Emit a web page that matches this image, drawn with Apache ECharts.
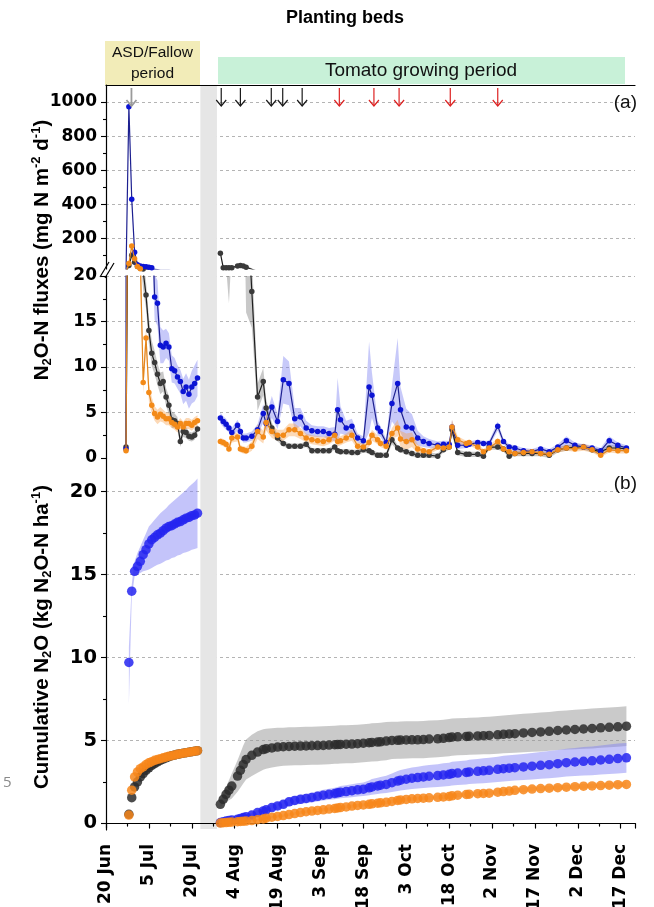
<!DOCTYPE html>
<html><head><meta charset="utf-8">
<script src="https://cdn.jsdelivr.net/npm/echarts@6/dist/echarts.min.js"></script>
<style>html,body{margin:0;padding:0;background:#fff}#c{width:654px;height:907px}</style>
</head><body><div id="c"></div>
<script>
// ---------- DATA ----------
// x values are days after 20 Jun
const xTickLabels = ['20 Jun','5 Jul','20 Jul','4 Aug','19 Aug','3 Sep','18 Sep','3 Oct','18 Oct','2 Nov','17 Nov','2 Dec','17 Dec'];
const gapDays = [33, 38.8];            // grey band between periods
const fluxHighTicks = [200, 400, 600, 800, 1000];
const fluxHighMinorTicks = [100, 300, 500, 700, 900];
const cumTicks = [0, 5, 10, 15, 20];
const cumMinorTicks = [2.5, 7.5, 12.5, 17.5];

// Panel (a) fluxes - ASD/Fallow period
const fallowDays = [7,8,9,10,11,12,13,14,15,16,17,18,19,20,21,22,23,24,25,26,27,28,29,30,31,32];
const fallowBlue = [1.0,972,430,119,45,38,35,33,30,28,17.7,17.0,12.4,12.2,12.6,12.2,9.8,9.6,8.9,8.4,7.3,7.8,7.0,7.8,8.2,8.8];
const fallowBlueErr = [0.3,20,20,10,6,5,5,5,5,4,2.5,2.5,2.0,1.8,1.6,1.5,1.5,1.4,1.3,1.3,1.4,1.5,1.6,1.8,2.0,2.0];
const fallowBlack = [1.2,40,100,60,35,25,20.5,17.9,14.0,11.5,10.5,9.2,8.2,8.4,6.7,5.8,4.2,4.1,3.8,1.8,2.9,2.8,2.4,2.3,2.5,3.2];
const fallowBlackErr = [0.2,8,10,8,5,3,2,1.5,1.5,1.4,1.3,1.2,1.2,1.1,1.0,1.0,0.9,0.8,0.7,0.6,0.6,0.6,0.5,0.5,0.5,0.5];
const fallowOrange = [0.8,52,155,80,35,22,8.3,13.2,7.2,5.8,4.9,4.5,4.8,4.6,4.3,4.3,3.9,3.7,3.4,3.8,3.4,3.8,3.8,3.6,3.9,4.1];
const fallowOrangeErr = [0.2,8,10,8,4,3,1.2,1.2,1.0,0.9,0.8,0.8,0.8,0.7,0.7,0.7,0.6,0.6,0.6,0.6,0.6,0.6,0.6,0.6,0.6,0.6];

// Panel (a) fluxes - tomato period
const tomDays = [40,41,42,43,44,46,47,48,49,51,53,55,56,58,60,62,64,66,68,70,72,74,76,78,80,81,82,84,86,88,90,92,93,95,96,98,100,102,103,105,107,109,111,113,116,118,120,121,123,126,127,130,132,134,137,139,141,143,146,149,152,155,158,161,164,167,170,173,176,179,182];
const tomBlue = [4.4,4.0,3.7,3.3,2.8,3.6,2.9,2.2,2.2,2.4,3.1,4.9,3.8,5.6,4.0,8.6,8.2,4.3,4.5,3.3,3.0,2.9,2.9,2.7,2.6,5.3,4.2,3.3,3.5,2.2,1.9,7.8,6.9,3.3,2.9,1.7,6.0,8.2,5.3,3.4,3.3,2.2,1.8,1.6,1.4,1.5,1.5,3.4,1.4,1.4,1.5,1.7,1.6,1.6,3.5,1.8,1.2,1.1,0.8,0.7,1.0,0.7,1.2,1.9,1.4,1.2,1.1,0.8,1.9,1.4,1.1];
const tomBlueErr = [0.6,0.6,0.6,0.5,0.5,0.6,0.6,0.5,0.5,0.5,0.6,1.0,0.8,1.2,0.8,2.6,2.4,1.2,1.0,0.8,0.6,0.6,0.6,0.6,0.8,3.5,1.5,0.8,0.8,0.5,0.5,5.0,2.5,0.8,0.6,0.4,2.0,5.0,2.5,2.0,1.5,0.8,0.6,0.5,0.4,0.4,0.4,0.8,0.4,0.3,0.3,0.3,0.3,0.3,0.5,0.3,0.3,0.3,0.3,0.3,0.3,0.3,0.3,0.5,0.3,0.3,0.3,0.3,0.5,0.3,0.3];
const tomOrange = [1.8,1.7,1.5,1.0,2.2,2.3,1.0,0.9,0.8,1.3,2.9,2.3,3.9,2.9,2.5,2.5,3.1,3.1,2.7,2.2,2.0,1.9,1.8,2.0,2.5,1.8,1.9,2.2,2.5,1.3,1.2,1.7,2.5,2.0,1.6,1.3,2.7,3.3,2.1,1.8,2.0,1.0,0.8,0.7,1.2,1.1,1.2,3.4,2.0,1.6,1.7,1.2,0.7,1.1,1.8,1.0,0.7,0.5,0.6,0.7,0.5,0.4,0.9,1.1,1.0,1.2,0.9,0.3,0.9,0.8,0.8];
const tomOrangeErr = [0.4,0.4,0.4,0.4,0.5,0.5,0.4,0.4,0.4,0.5,0.8,0.7,0.9,0.7,0.6,0.6,0.7,0.7,0.6,0.5,0.5,0.5,0.5,0.5,0.6,0.5,0.5,0.5,0.6,0.4,0.4,0.5,0.6,0.5,0.4,0.4,0.6,0.9,0.9,0.9,0.8,0.5,0.3,0.3,0.3,0.3,0.3,0.8,0.4,0.3,0.3,0.3,0.3,0.3,0.4,0.3,0.3,0.3,0.3,0.3,0.3,0.2,0.3,0.3,0.3,0.4,0.3,0.2,0.3,0.3,0.3];
const tomBlack = [113,28,27,27,28,38,40,38,30,18.3,6.7,8.4,5.5,3.3,2.2,1.6,1.3,1.3,1.3,1.5,0.8,0.8,0.8,0.8,1.2,0.8,0.7,0.7,0.6,0.6,0.9,0.8,0.6,0.3,0.3,0.3,2.0,1.1,0.9,0.7,0.5,0.3,0.3,0.3,0.2,0.9,1.2,3.1,0.6,0.4,0.4,0.4,0.2,1.2,1.2,1.0,0.2,0.5,0.5,0.5,0.5,0.3,0.9,1.1,1.2,1.2,0.9,0.7,1.1,1.1,1.0];
const tomBlackErr = [5,3,6,10,5,4,4,4,14,4,1.5,1.5,1.0,0.6,0.4,0.3,0.3,0.3,0.3,0.3,0.3,0.3,0.3,0.3,0.3,0.3,0.3,0.3,0.3,0.3,0.3,0.3,0.3,0.3,0.3,0.3,0.5,0.3,0.3,0.3,0.3,0.3,0.3,0.3,0.3,0.3,0.3,0.6,0.3,0.3,0.3,0.3,0.3,0.3,0.3,0.3,0.3,0.3,0.3,0.3,0.3,0.3,0.3,0.3,0.3,0.3,0.3,0.3,0.3,0.3,0.3];

// Panel (b) cumulative
const cumFallowDays = [8,9,10,11,12,13,14,15,16,17,18,19,20,21,22,23,24,25,26,27,28,29,30,31,32];
const cumFallowBlue = [9.7,14.0,15.2,15.5,15.8,16.2,16.5,16.85,17.1,17.25,17.4,17.5,17.65,17.8,17.9,17.95,18.05,18.15,18.2,18.3,18.4,18.45,18.55,18.6,18.7];
const cumFallowBlueLo = [7.2,13.6,14.9,15.0,15.1,15.2,15.25,15.3,15.4,15.5,15.6,15.65,15.75,15.85,15.9,16.0,16.05,16.15,16.2,16.3,16.35,16.4,16.5,16.55,16.6];
const cumFallowBlueHi = [10.6,14.4,15.8,16.3,16.7,17.1,17.5,17.9,18.1,18.3,18.5,18.7,18.85,19.0,19.2,19.35,19.5,19.65,19.8,19.95,20.1,20.3,20.45,20.6,20.8];
const cumFallowBlack = [0.55,1.55,2.2,2.5,2.8,3.0,3.2,3.35,3.5,3.6,3.7,3.8,3.88,3.95,4.02,4.08,4.12,4.16,4.2,4.23,4.26,4.29,4.32,4.35,4.38];
const cumFallowOrange = [0.5,2.0,2.8,3.1,3.3,3.4,3.55,3.65,3.72,3.8,3.85,3.9,3.95,4.0,4.05,4.08,4.12,4.16,4.2,4.23,4.26,4.29,4.32,4.35,4.38];

const cumTomBlack = [1.15,1.45,1.75,2.0,2.25,2.85,3.2,3.55,3.85,4.1,4.3,4.45,4.5,4.55,4.6,4.62,4.64,4.65,4.66,4.67,4.68,4.69,4.7,4.72,4.74,4.75,4.76,4.77,4.78,4.8,4.83,4.86,4.88,4.9,4.92,4.96,5.0,5.01,5.02,5.03,5.04,5.04,5.05,5.08,5.1,5.13,5.17,5.2,5.22,5.24,5.25,5.27,5.29,5.3,5.34,5.37,5.39,5.41,5.45,5.48,5.51,5.55,5.6,5.63,5.66,5.69,5.72,5.76,5.79,5.82,5.86];
const cumTomBlackErr = [0.15,0.3,0.45,0.6,0.75,0.95,1.05,1.15,1.2,1.25,1.25,1.22,1.2,1.18,1.17,1.15,1.15,1.15,1.15,1.15,1.15,1.15,1.15,1.15,1.15,1.15,1.15,1.15,1.15,1.15,1.15,1.15,1.15,1.15,1.15,1.15,1.12,1.12,1.12,1.12,1.12,1.12,1.12,1.12,1.12,1.12,1.12,1.12,1.12,1.12,1.12,1.12,1.13,1.13,1.14,1.14,1.15,1.15,1.16,1.16,1.17,1.17,1.18,1.18,1.19,1.19,1.2,1.2,1.2,1.2,1.2];
const cumTomBlue = [0.05,0.1,0.14,0.18,0.21,0.25,0.3,0.35,0.4,0.5,0.65,0.75,0.82,0.95,1.05,1.15,1.3,1.38,1.45,1.5,1.56,1.63,1.7,1.75,1.8,1.84,1.88,1.92,1.97,2.02,2.06,2.14,2.2,2.26,2.3,2.35,2.45,2.55,2.6,2.66,2.72,2.76,2.8,2.84,2.88,2.92,2.96,3.0,3.03,3.07,3.1,3.14,3.17,3.2,3.26,3.3,3.33,3.36,3.4,3.45,3.5,3.54,3.6,3.66,3.7,3.74,3.77,3.82,3.86,3.91,3.95];
const cumTomBlueErr = [0.03,0.04,0.05,0.06,0.07,0.08,0.09,0.1,0.11,0.13,0.15,0.17,0.18,0.2,0.21,0.23,0.26,0.27,0.28,0.29,0.3,0.31,0.32,0.33,0.34,0.36,0.37,0.38,0.39,0.4,0.41,0.45,0.47,0.49,0.5,0.52,0.56,0.6,0.62,0.64,0.65,0.66,0.67,0.68,0.69,0.7,0.7,0.71,0.72,0.72,0.73,0.74,0.75,0.75,0.76,0.77,0.77,0.78,0.79,0.8,0.81,0.82,0.83,0.84,0.85,0.86,0.87,0.88,0.89,0.9,0.9];
const cumTomOrange = [0.02,0.04,0.05,0.06,0.08,0.1,0.12,0.13,0.14,0.17,0.22,0.27,0.31,0.37,0.42,0.47,0.53,0.59,0.65,0.7,0.74,0.78,0.82,0.86,0.9,0.93,0.95,0.99,1.04,1.08,1.11,1.15,1.18,1.22,1.24,1.27,1.32,1.38,1.41,1.44,1.48,1.5,1.52,1.54,1.57,1.59,1.62,1.66,1.7,1.74,1.76,1.79,1.8,1.82,1.88,1.92,1.95,1.99,2.03,2.07,2.1,2.12,2.15,2.18,2.21,2.24,2.26,2.28,2.3,2.33,2.35];
const cumTomOrangeErr = [0.03,0.03,0.03,0.03,0.03,0.04,0.04,0.04,0.04,0.05,0.05,0.05,0.06,0.06,0.07,0.07,0.08,0.08,0.09,0.09,0.1,0.1,0.1,0.1,0.1,0.1,0.1,0.1,0.1,0.1,0.1,0.11,0.11,0.11,0.11,0.11,0.12,0.12,0.12,0.12,0.12,0.12,0.12,0.13,0.13,0.13,0.13,0.13,0.13,0.13,0.13,0.14,0.14,0.14,0.14,0.14,0.14,0.14,0.15,0.15,0.15,0.15,0.15,0.15,0.15,0.15,0.15,0.15,0.15,0.15,0.15];

// event arrows (days) and kind: 0 = ASD grey, 1 = black, 2 = red
const arrowDays = [8.9,40.3,47.0,57.8,61.8,68.6,81.6,93.7,102.5,120.4,137.0];
const arrowKinds = [0,1,1,1,1,1,2,2,2,2,2];

// ---------- STYLE ----------
const COL = {
  blue:   {mk:'#0c14d4', ln:'#1d2090', band:'rgba(115,120,240,0.40)', cum:'#2424f0', cumBand:'rgba(125,125,245,0.45)'},
  orange: {mk:'#f38a18', ln:'#e4861e', band:'rgba(247,160,75,0.40)',  cum:'#f7861a', cumBand:'rgba(250,175,95,0.5)'},
  black:  {mk:'#3a3a3a', ln:'#1e1e1e', band:'rgba(110,110,110,0.38)', cum:'#2b2b2b', cumBand:'rgba(150,150,150,0.5)'}
};
const ARROW_COL = ['#9a9a9a', '#1a1a1a', '#dd2222'];
const FONT_TICK = 'DejaVu Sans';
const FONT_TXT = 'Liberation Sans';

const pairs = (d, v) => d.map((x, i) => [x, v[i]]);
const lo = (v, e) => v.map((x, i) => Math.max(0, x - e[i]));
const hi = (v, e) => v.map((x, i) => x + e[i]);

function band(xi, yi, days, low, high, color, z) {
  return {
    type: 'custom', xAxisIndex: xi, yAxisIndex: yi, z: z, silent: true, clip: true,
    data: [[days[0], low[0]]],
    renderItem: function (params, api) {
      const top = days.map((d, i) => api.coord([d, high[i]]));
      const bot = days.map((d, i) => api.coord([d, low[i]])).reverse();
      const cs = params.coordSys;
      return {
        type: 'group',
        clipPath: {type: 'rect', shape: {x: cs.x, y: cs.y, width: cs.width, height: cs.height}},
        children: [{type: 'polygon', shape: {points: top.concat(bot)}, style: {fill: color}}]
      };
    }
  };
}
function fluxLine(xi, yi, days, vals, c, z) {
  return {
    type: 'line', xAxisIndex: xi, yAxisIndex: yi, z: z, silent: true, clip: true,
    data: pairs(days, vals), symbol: 'circle', symbolSize: 5.5, showSymbol: true,
    lineStyle: {color: c.ln, width: 1.2}, itemStyle: {color: c.mk}
  };
}
function cumPts(days, vals, c, z) {
  return {
    type: 'scatter', xAxisIndex: 2, yAxisIndex: 2, z: z, silent: true,
    data: pairs(days, vals), symbol: 'circle', symbolSize: 9.5,
    itemStyle: {color: c.cum, opacity: 0.85}
  };
}

const series = [];
// grey gap band
series.push({
  type: 'custom', xAxisIndex: 4, yAxisIndex: 4, z: 1, silent: true,
  data: [gapDays],
  renderItem: function (params, api) {
    const cs = params.coordSys;
    const x0 = api.coord([api.value(0), 0])[0];
    const x1 = api.coord([api.value(1), 0])[0];
    return {type: 'rect', shape: {x: x0, y: cs.y + 1, width: x1 - x0, height: cs.height - 2}, style: {fill: '#e6e6e6'}};
  }
});
// panel (a): both y segments
[0, 1].forEach(g => {
  series.push(band(g, g, fallowDays, lo(fallowBlack, fallowBlackErr), hi(fallowBlack, fallowBlackErr), COL.black.band, 2));
  series.push(band(g, g, fallowDays, lo(fallowBlue, fallowBlueErr), hi(fallowBlue, fallowBlueErr), COL.blue.band, 2));
  series.push(band(g, g, fallowDays, lo(fallowOrange, fallowOrangeErr), hi(fallowOrange, fallowOrangeErr), COL.orange.band, 2));
  series.push(band(g, g, tomDays, lo(tomBlack, tomBlackErr), hi(tomBlack, tomBlackErr), COL.black.band, 2));
  series.push(band(g, g, tomDays, lo(tomBlue, tomBlueErr), hi(tomBlue, tomBlueErr), COL.blue.band, 2));
  series.push(band(g, g, tomDays, lo(tomOrange, tomOrangeErr), hi(tomOrange, tomOrangeErr), COL.orange.band, 2));
  series.push(fluxLine(g, g, fallowDays, fallowBlack, COL.black, 3));
  series.push(fluxLine(g, g, tomDays, tomBlack, COL.black, 3));
  series.push(fluxLine(g, g, fallowDays, fallowBlue, COL.blue, 4));
  series.push(fluxLine(g, g, tomDays, tomBlue, COL.blue, 4));
  series.push(fluxLine(g, g, fallowDays, fallowOrange, COL.orange, 5));
  series.push(fluxLine(g, g, tomDays, tomOrange, COL.orange, 5));
});
// arrows
series.push({
  type: 'custom', xAxisIndex: 0, yAxisIndex: 0, z: 6, silent: true,
  data: arrowDays.map((d, i) => [d, arrowKinds[i]]),
  renderItem: function (params, api) {
    const x = api.coord([api.value(0), 500])[0];
    const cs = params.coordSys;
    const k = api.value(1);
    const col = ARROW_COL[k];
    const w = k === 0 ? 1.8 : 1.2;
    const y0 = cs.y + 3, y1 = cs.y + 21;
    return {type: 'group', children: [
      {type: 'line', shape: {x1: x, y1: y0, x2: x, y2: y1}, style: {stroke: col, lineWidth: w}},
      {type: 'polyline', shape: {points: [[x - 5, y1 - 6], [x, y1], [x + 5, y1 - 6]]}, style: {stroke: col, lineWidth: w, fill: null}}
    ]};
  }
});
// panel (b)
series.push(band(2, 2, cumFallowDays, cumFallowBlueLo, cumFallowBlueHi, COL.blue.cumBand, 2));
series.push(band(2, 2, tomDays, lo(cumTomBlack, cumTomBlackErr), hi(cumTomBlack, cumTomBlackErr), COL.black.cumBand, 2));
series.push(band(2, 2, tomDays, lo(cumTomBlue, cumTomBlueErr), hi(cumTomBlue, cumTomBlueErr), COL.blue.cumBand, 2));
series.push(band(2, 2, tomDays, lo(cumTomOrange, cumTomOrangeErr), hi(cumTomOrange, cumTomOrangeErr), COL.orange.cumBand, 2));
series.push(cumPts(cumFallowDays, cumFallowBlack, COL.black, 3));
series.push(cumPts(tomDays, cumTomBlack, COL.black, 3));
series.push(cumPts(cumFallowDays, cumFallowBlue, COL.blue, 4));
series.push(cumPts(tomDays, cumTomBlue, COL.blue, 4));
series.push(cumPts(cumFallowDays, cumFallowOrange, COL.orange, 5));
series.push(cumPts(tomDays, cumTomOrange, COL.orange, 5));

const axLine = {show: true, lineStyle: {color: '#000', width: 1.2}};
const tickSt = {color: '#000', width: 1.1};
const gridSplit = {show: true, lineStyle: {color: '#b4b4b4', type: [3, 3], width: 1}};
const G = {left: 106, width: 529, outerBoundsMode: 'none', containLabel: false};
const plain = v => String(v);
const tickLabA = {margin: 9, fontFamily: FONT_TICK, fontWeight: 'bold', fontSize: 17, color: '#000', formatter: plain};

const option = {
  animation: false,
  backgroundColor: '#fff',
  grid: [
    Object.assign({top: 85, height: 184}, G),
    Object.assign({top: 276, height: 182}, G),
    Object.assign({top: 458, height: 372}, G),
    Object.assign({top: 85, height: 745}, G)
  ],
  xAxis: [
    {gridIndex: 0, type: 'value', min: 0, max: 185, interval: 15, position: 'top', z: 5,
     axisLine: axLine, axisTick: {show: false}, axisLabel: {show: false}, splitLine: {show: false}},
    {gridIndex: 1, type: 'value', min: 0, max: 185, interval: 15, show: false},
    {gridIndex: 2, type: 'value', min: 0, max: 185, interval: 15, position: 'bottom', z: 5,
     axisLine: axLine,
     axisTick: {show: true, length: 5, lineStyle: tickSt},
     minorTick: {show: true, splitNumber: 2, length: 3, lineStyle: tickSt},
     splitLine: {show: false},
     axisLabel: {rotate: 90, margin: 14, fontFamily: FONT_TICK, fontWeight: 'bold', fontSize: 17, color: '#000',
       formatter: v => (v % 15 === 0 && xTickLabels[v / 15]) ? xTickLabels[v / 15] : ''}},
    {gridIndex: 2, type: 'value', min: 0, max: 185, interval: 15, position: 'top', z: 5,
     axisLine: axLine,
     axisTick: {show: true, inside: true, length: 5, lineStyle: tickSt},
     minorTick: {show: true, splitNumber: 2, length: 3, lineStyle: tickSt},
     axisLabel: {show: false}, splitLine: {show: false}},
    {gridIndex: 3, type: 'value', min: 0, max: 185, show: false}
  ],
  yAxis: [
    {gridIndex: 0, type: 'value', min: 20, max: 1100, position: 'left',
     axisLine: axLine,
     axisTick: {show: true, length: 5, lineStyle: tickSt, customValues: fluxHighTicks},
     minorTick: {show: false},
     splitLine: gridSplit,
     axisLabel: Object.assign({customValues: fluxHighTicks}, tickLabA)},
    {gridIndex: 1, type: 'value', min: 0, max: 20, interval: 5, position: 'left',
     axisLine: axLine,
     axisTick: {show: true, length: 5, lineStyle: tickSt},
     minorTick: {show: true, splitNumber: 2, length: 3, lineStyle: tickSt},
     splitLine: Object.assign({showMinLine: false, showMaxLine: true}, gridSplit),
     axisLabel: tickLabA},
    {gridIndex: 2, type: 'value', min: -0.4, max: 22.03, position: 'left',
     axisLine: axLine,
     axisTick: {show: true, length: 5, lineStyle: tickSt, customValues: cumTicks},
     minorTick: {show: false},
     splitLine: gridSplit,
     axisLabel: {margin: 9, fontFamily: FONT_TICK, fontWeight: 'bold', fontSize: 19.5, color: '#000', customValues: cumTicks, formatter: plain}},
    {gridIndex: 2, type: 'value', min: -0.4, max: 22.03, position: 'left',
     axisLine: {show: false},
     axisTick: {show: true, length: 3, lineStyle: tickSt, customValues: cumMinorTicks},
     axisLabel: {show: false}, splitLine: {show: false}},
    {gridIndex: 3, type: 'value', min: 0, max: 1, show: false},
    {gridIndex: 0, type: 'value', min: 20, max: 1100, position: 'left',
     axisLine: {show: false},
     axisTick: {show: true, length: 3, lineStyle: tickSt, customValues: fluxHighMinorTicks},
     axisLabel: {show: false}, splitLine: {show: false}}
  ],
  series: series,
  graphic: [
    {type: 'text', x: 345, y: 18, z: 10,
     style: {text: 'Planting beds', fontFamily: FONT_TXT, fontWeight: 'bold', fontSize: 18, fill: '#000',
       textAlign: 'center', textVerticalAlign: 'middle', align: 'center', verticalAlign: 'middle'}},
    {type: 'rect', shape: {x: 105, y: 41, width: 95, height: 44}, style: {fill: '#f2ecb8'}, z: 0},
    {type: 'text', x: 152.5, y: 63.5, z: 10,
     style: {text: 'ASD/Fallow\nperiod', fontFamily: FONT_TXT, fontSize: 15.5, lineHeight: 21, fill: '#111',
       textAlign: 'center', textVerticalAlign: 'middle', align: 'center', verticalAlign: 'middle'}},
    {type: 'rect', shape: {x: 218, y: 57, width: 407, height: 27}, style: {fill: '#c8f1d8'}, z: 0},
    {type: 'text', x: 421, y: 71, z: 10,
     style: {text: 'Tomato growing period', fontFamily: FONT_TXT, fontSize: 19, fill: '#111',
       textAlign: 'center', textVerticalAlign: 'middle', align: 'center', verticalAlign: 'middle'}},
    {type: 'text', x: 637, y: 103, z: 10,
     style: {text: '(a)', fontFamily: FONT_TXT, fontSize: 19, fill: '#111',
       textAlign: 'right', textVerticalAlign: 'middle', align: 'right', verticalAlign: 'middle'}},
    {type: 'text', x: 637, y: 484, z: 10,
     style: {text: '(b)', fontFamily: FONT_TXT, fontSize: 19, fill: '#111',
       textAlign: 'right', textVerticalAlign: 'middle', align: 'right', verticalAlign: 'middle'}},
    {type: 'text', x: 3, y: 783, z: 10,
     style: {text: '5', fontFamily: 'Open Sans', fontSize: 15, fill: '#8a8a8a',
       textAlign: 'left', textVerticalAlign: 'middle', align: 'left', verticalAlign: 'middle'}},
    // axis break marks
    {type: 'line', z: 10, shape: {x1: 100, y1: 277, x2: 109, y2: 262}, style: {stroke: '#000', lineWidth: 1.2}},
    {type: 'line', z: 10, shape: {x1: 105, y1: 278, x2: 114, y2: 263}, style: {stroke: '#000', lineWidth: 1.2}},
    // y titles
    {type: 'text', x: 42, y: 250, rotation: Math.PI / 2, z: 10,
     style: {
       text: '{a|N}{s|2}{a|O-N fluxes (mg N m}{p|-2}{a| d}{p|-1}{a|)}',
       textAlign: 'center', textVerticalAlign: 'middle', align: 'center', verticalAlign: 'middle',
       rich: {
         a: {fontFamily: FONT_TXT, fontWeight: 'bold', fontSize: 20.5, lineHeight: 24, fill: '#000'},
         s: {fontFamily: FONT_TXT, fontWeight: 'bold', fontSize: 13, lineHeight: 13, verticalAlign: 'bottom', fill: '#000'},
         p: {fontFamily: FONT_TXT, fontWeight: 'bold', fontSize: 13, lineHeight: 13, verticalAlign: 'top', fill: '#000'}
       }
     }},
    {type: 'text', x: 42, y: 637, rotation: Math.PI / 2, z: 10,
     style: {
       text: '{a|Cumulative N}{s|2}{a|O (kg N}{s|2}{a|O-N ha}{p|-1}{a|)}',
       textAlign: 'center', textVerticalAlign: 'middle', align: 'center', verticalAlign: 'middle',
       rich: {
         a: {fontFamily: FONT_TXT, fontWeight: 'bold', fontSize: 20.5, lineHeight: 24, fill: '#000'},
         s: {fontFamily: FONT_TXT, fontWeight: 'bold', fontSize: 13, lineHeight: 13, verticalAlign: 'bottom', fill: '#000'},
         p: {fontFamily: FONT_TXT, fontWeight: 'bold', fontSize: 13, lineHeight: 13, verticalAlign: 'top', fill: '#000'}
       }
     }}
  ]
};

const chart = echarts.init(document.getElementById('c'), null, {renderer: 'canvas', width: 654, height: 907});
chart.setOption(option);
</script>
</body></html>
